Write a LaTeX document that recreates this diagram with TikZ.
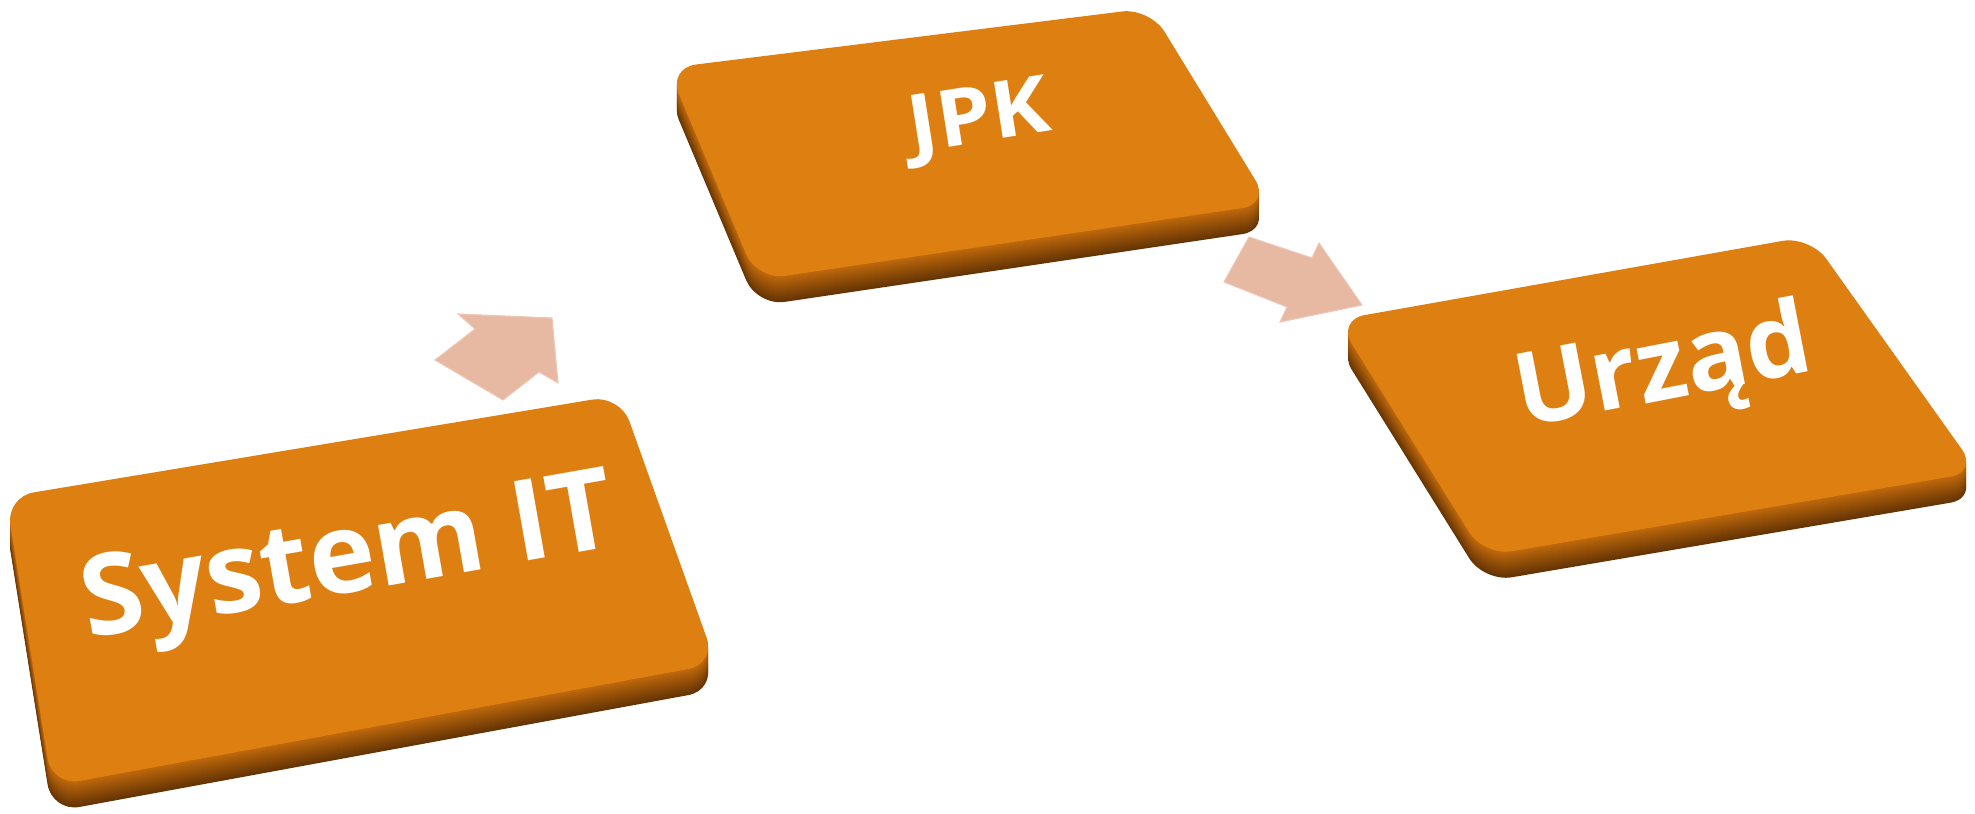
\documentclass[tikz,border=0pt]{standalone}
\usepackage{fontspec}
\setmainfont{Open Sans}

\definecolor{keyface}{HTML}{DE7F12}
\definecolor{keyedge}{HTML}{C26A0C}
\definecolor{keydark}{HTML}{663504}
\definecolor{flow}{HTML}{E8B9A2}

\tikzset{
  keylabel/.style={text=white, inner sep=0pt, font=\bfseries},
  keyround/.style={rounded corners=2.8mm},
  flowarrow/.style={fill=flow, draw=flow!80!white, line width=0.3pt}
}

\newcommand{\keyslab}[4]{%
  \foreach \dy [evaluate=\dy as \mix using 100*\dy/26] in {26,24,...,2}
    \fill[keydark!\mix!keyedge, keyround, shift={(0,\dy)}] #1 -- #2 -- #3 -- #4 -- cycle;
  \fill[keyface, keyround] #1 -- #2 -- #3 -- #4 -- cycle;
}

\begin{document}
\begin{tikzpicture}[x=0.1mm, y=-0.1mm]
    \useasboundingbox (0,0) rectangle (1975,813);
    \keyslab{(6,497)}{(620,395)}{(716,664)}{(52,786)}
    \keyslab{(668,68)}{(1150,8)}{(1270,204)}{(757,280)}
    \keyslab{(1337,320)}{(1810,236)}{(1978,472)}{(1484,556)}
    \node[keylabel, font=\bfseries\fontsize{32}{38}\selectfont, rotate=10]
      (sysit) at (349,565) {System IT};
    \node[keylabel, font=\bfseries\fontsize{25}{30}\selectfont, rotate=9, yscale=0.9]
      (jpk) at (980,122) {JPK};
    \node[keylabel, font=\bfseries\fontsize{29}{35}\selectfont, rotate=11]
      (urzad) at (1664,373) {Urząd};
    \filldraw[flowarrow] (435,360) -- (475,329) -- (458,314) -- (552,318)
      -- (558,383) -- (539,372) -- (503,400) -- cycle;
    \filldraw[flowarrow] (1224,282) -- (1249,237) -- (1312,258) -- (1319,243)
      -- (1362,305) -- (1280,322) -- (1287,307) -- cycle;
\end{tikzpicture}
\end{document}
